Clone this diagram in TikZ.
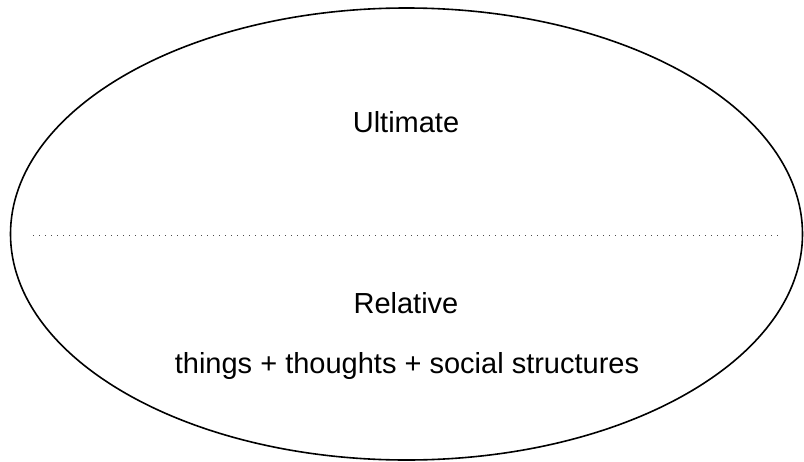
\documentclass[tikz,border=0pt]{standalone}
\usepackage{fontspec}
\setmainfont{Liberation Sans}
\begin{document}
\begin{tikzpicture}[x=1pt,y=-1pt,
  lbl/.style={anchor=base,inner sep=0pt,font=\fontsize{29}{34}\selectfont},
  outline/.style={line width=1.6pt,black},
  divider/.style={line width=1pt,black!70,dash pattern=on 1pt off 5pt}]
\useasboundingbox (0,0) rectangle (804,461);
\draw[outline] (406.5,234) ellipse [x radius=396, y radius=226];
\coordinate (dl) at (33,235);
\coordinate (dr) at (781,235);
\draw[divider] (dl) -- (dr);
\node[lbl] (ult) at (406,132) {Ultimate};
\node[lbl] (rel) at (406,313) {Relative};
\node[lbl] (thg) at (407,373) {things + thoughts + social structures};
\end{tikzpicture}
\end{document}
